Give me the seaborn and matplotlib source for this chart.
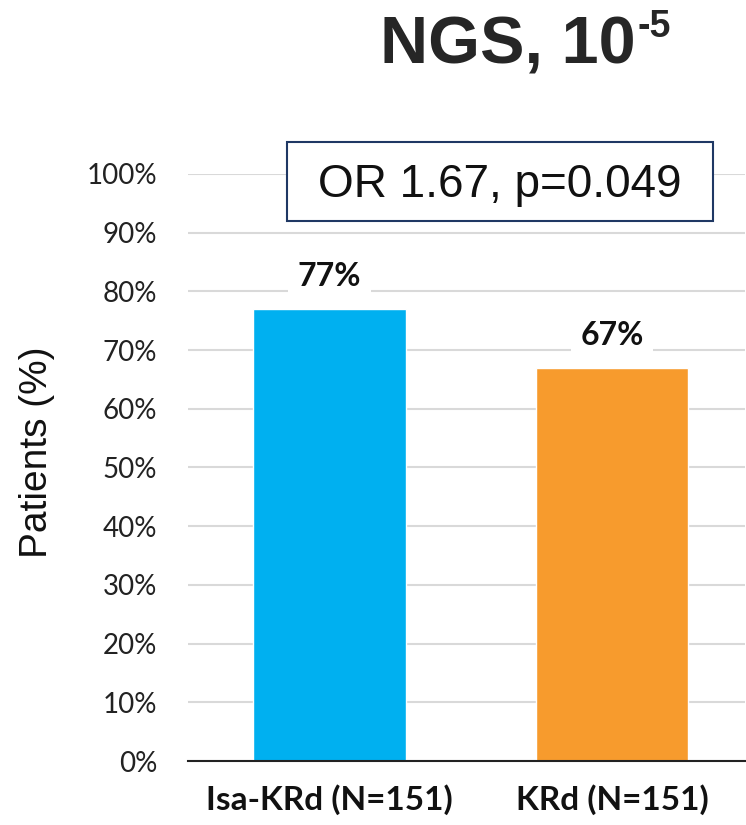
import matplotlib
matplotlib.use("Agg")
import matplotlib.pyplot as plt
from matplotlib.patches import Rectangle
import seaborn as sns
import pandas as pd

# Data
groups = ["Isa-KRd (N=151)", "KRd (N=151)"]
patients_pct = [77, 67]
bar_colors = ["#00B0F0", "#F79B2D"]
y_ticks = [0, 10, 20, 30, 40, 50, 60, 70, 80, 90, 100]
y_tick_labels = [f"{v}%" for v in y_ticks]
title_main = "NGS, 10"
title_sup = "-5"
stat_text = "OR 1.67, p=0.049"
y_label = "Patients (%)"

df = pd.DataFrame({"group": groups, "pct": patients_pct})

sns.set_theme(style="white")
plt.rcParams["font.family"] = ["Lato", "DejaVu Sans"]

W, H = 746, 825
fig = plt.figure(figsize=(W / 100, H / 100), dpi=100)
ax = fig.add_axes([188 / W, 1 - 761 / H, 557 / W, 587 / H])

sns.barplot(data=df, x="group", y="pct", hue="group", palette=bar_colors,
            width=0.54, legend=False, ax=ax, saturation=1)

ax.set_ylim(0, 100)
ax.set_xlim(-0.5, 1.47)
ax.set_yticks(y_ticks)
ax.set_yticklabels(y_tick_labels, fontsize=20, color="#222222")
ax.set_xlabel("")
ax.set_ylabel(y_label, fontsize=28, family="Liberation Sans", color="#111111")
ax.yaxis.set_label_coords((55 - 188) / 557, (761 - 452) / 587)
ax.tick_params(axis="y", length=0, pad=22)
ax.tick_params(axis="x", length=0, pad=17)
for lbl in ax.get_xticklabels():
    lbl.set_fontsize(24)
    lbl.set_fontweight("bold")
    lbl.set_color("#111111")

ax.yaxis.grid(True, color="#D9D9D9", linewidth=1.5)
ax.set_axisbelow(True)
for side in ["top", "right", "left"]:
    ax.spines[side].set_visible(False)
ax.spines["bottom"].set_color("#222222")
ax.spines["bottom"].set_linewidth(1.5)

for container in ax.containers:
    ax.bar_label(container, labels=[f"{v:.0f}%" for v in container.datavalues],
                 padding=13, fontsize=23, fontweight="bold", color="#111111",
                 bbox=dict(facecolor="white", edgecolor="none", pad=7))

# Statistic box above the bars
fig.add_artist(Rectangle((287 / W, 1 - 221 / H), 426 / W, 79 / H,
                         transform=fig.transFigure, facecolor="white",
                         edgecolor="#1F3864", linewidth=1.5, zorder=5))
fig.text(500 / W, 1 - 197 / H, stat_text, ha="center", va="baseline",
         fontsize=33, family="Liberation Sans", color="#111111", zorder=6)

# Title with superscript exponent
t1 = fig.text(380 / W, 1 - 63 / H, title_main, ha="left", va="baseline",
              fontsize=48, fontweight="bold", family="Liberation Sans")
fig.canvas.draw()
bb = t1.get_window_extent()
fig.text((bb.x1 + 2) / W, 1 - 37 / H, title_sup, ha="left",
         va="baseline", fontsize=27, fontweight="bold", family="Liberation Sans")

fig.savefig("out.png", dpi=100)
